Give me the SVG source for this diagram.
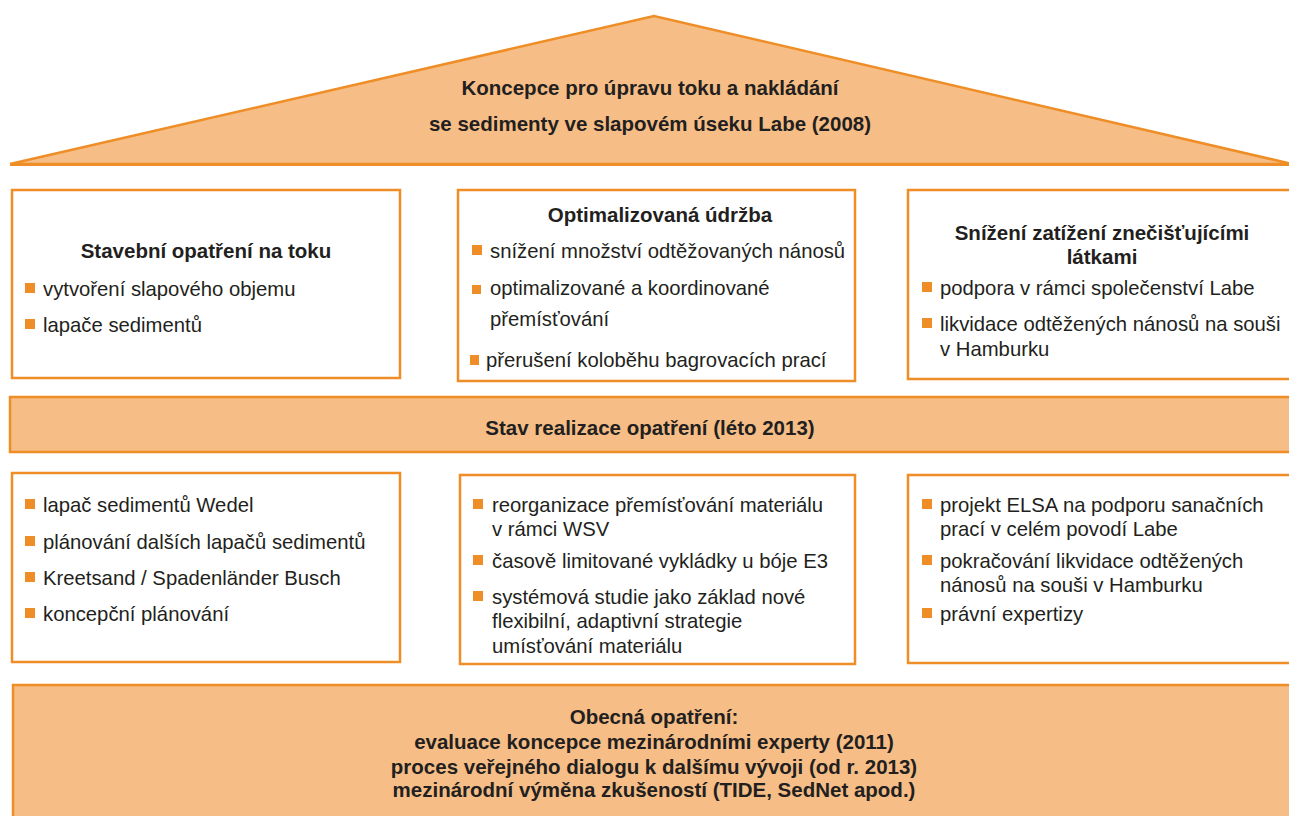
<svg xmlns="http://www.w3.org/2000/svg" width="1289" height="816" viewBox="0 0 1289 816">
  <defs>
    <style>
      .frame { fill: #ffffff; stroke: #EF8D26; stroke-width: 2.5; }
      .band { fill: #F6BE86; stroke: #EF8D26; stroke-width: 2.5; }
      .bul { fill: #EF8D26; }
      .hd { font-family: "Liberation Sans", Arial, sans-serif; font-weight: bold; font-size: 20.5px; fill: #231F20; text-anchor: middle; }
      .tx { font-family: "Liberation Sans", Arial, sans-serif; font-size: 20.3px; fill: #231F20; }
    </style>
  </defs>
  <rect width="1289" height="816" fill="#ffffff"/>

  <!-- roof: overall concept -->
  <g id="roof">
    <polygon class="band" points="10,164 654,16 1292,164" stroke-linejoin="miter"/>
    <line x1="10" y1="164.5" x2="1289" y2="164.5" stroke="#EF8D26" stroke-width="3"/>
    <text class="hd" x="650" y="95">Koncepce pro úpravu toku a nakládání</text>
    <text class="hd" x="650" y="131">se sedimenty ve slapovém úseku Labe (2008)</text>
  </g>

  <!-- upper row of measures -->
  <g id="stavebni">
    <rect class="frame" x="12" y="190" width="388" height="188"/>
    <text class="hd" x="206" y="258">Stavební opatření na toku</text>
    <rect class="bul" x="25" y="283" width="10" height="10"/>
    <text class="tx" x="43" y="296">vytvoření slapového objemu</text>
    <rect class="bul" x="25" y="319" width="10" height="10"/>
    <text class="tx" x="43" y="332">lapače sedimentů</text>
  </g>

  <g id="udrzba">
    <rect class="frame" x="458" y="190" width="397" height="191"/>
    <text class="hd" x="660" y="222">Optimalizovaná údržba</text>
    <rect class="bul" x="472" y="245" width="10" height="10"/>
    <text class="tx" x="490" y="258">snížení množství odtěžovaných nánosů</text>
    <rect class="bul" x="472" y="285" width="9" height="9"/>
    <text class="tx" x="490" y="295">optimalizované a koordinované</text>
    <text class="tx" x="490" y="326">přemísťování</text>
    <rect class="bul" x="470" y="355" width="9" height="10"/>
    <text class="tx" x="486" y="367">přerušení koloběhu bagrovacích prací</text>
  </g>

  <g id="znecisteni">
    <rect class="frame" x="908" y="190" width="400" height="189"/>
    <text class="hd" x="1102" y="240">Snížení zatížení znečišťujícími</text>
    <text class="hd" x="1102" y="264">látkami</text>
    <rect class="bul" x="922" y="282" width="10" height="10"/>
    <text class="tx" x="940" y="295">podpora v rámci společenství Labe</text>
    <rect class="bul" x="922" y="318" width="10" height="10"/>
    <text class="tx" x="940" y="331">likvidace odtěžených nánosů na souši</text>
    <text class="tx" x="940" y="356">v Hamburku</text>
  </g>

  <!-- middle band -->
  <g id="stav">
    <rect class="band" x="10" y="397" width="1300" height="55"/>
    <text class="hd" x="650" y="435">Stav realizace opatření (léto 2013)</text>
  </g>

  <!-- lower row: state of implementation -->
  <g id="stav-stavebni">
    <rect class="frame" x="12" y="473" width="388" height="189"/>
    <rect class="bul" x="25" y="499" width="10" height="10"/>
    <text class="tx" x="43" y="512">lapač sedimentů Wedel</text>
    <rect class="bul" x="25" y="536" width="10" height="10"/>
    <text class="tx" x="43" y="549">plánování dalších lapačů sedimentů</text>
    <rect class="bul" x="25" y="572" width="10" height="10"/>
    <text class="tx" x="43" y="585">Kreetsand / Spadenländer Busch</text>
    <rect class="bul" x="25" y="608" width="10" height="10"/>
    <text class="tx" x="43" y="621">koncepční plánování</text>
  </g>

  <g id="stav-udrzba">
    <rect class="frame" x="460" y="475" width="395" height="189"/>
    <rect class="bul" x="473" y="499" width="10" height="10"/>
    <text class="tx" x="492" y="512">reorganizace přemísťování materiálu</text>
    <text class="tx" x="492" y="536">v rámci WSV</text>
    <rect class="bul" x="473" y="555" width="10" height="10"/>
    <text class="tx" x="492" y="568">časově limitované vykládky u bóje E3</text>
    <rect class="bul" x="473" y="591" width="10" height="10"/>
    <text class="tx" x="492" y="604">systémová studie jako základ nové</text>
    <text class="tx" x="492" y="628">flexibilní, adaptivní strategie</text>
    <text class="tx" x="492" y="653">umísťování materiálu</text>
  </g>

  <g id="stav-znecisteni">
    <rect class="frame" x="908" y="475" width="400" height="188"/>
    <rect class="bul" x="922" y="499" width="10" height="10"/>
    <text class="tx" x="940" y="512">projekt ELSA na podporu sanačních</text>
    <text class="tx" x="940" y="536">prací v celém povodí Labe</text>
    <rect class="bul" x="922" y="555" width="10" height="10"/>
    <text class="tx" x="940" y="568">pokračování likvidace odtěžených</text>
    <text class="tx" x="940" y="592">nánosů na souši v Hamburku</text>
    <rect class="bul" x="922" y="608" width="10" height="10"/>
    <text class="tx" x="940" y="621">právní expertizy</text>
  </g>

  <!-- foundation: general measures -->
  <g id="obecna">
    <rect class="band" x="13" y="685" width="1300" height="150"/>
    <text class="hd" x="654" y="724">Obecná opatření:</text>
    <text class="hd" x="654" y="749">evaluace koncepce mezinárodními experty (2011)</text>
    <text class="hd" x="654" y="774">proces veřejného dialogu k dalšímu vývoji (od r. 2013)</text>
    <text class="hd" x="654" y="797">mezinárodní výměna zkušeností (TIDE, SedNet apod.)</text>
  </g>
</svg>
